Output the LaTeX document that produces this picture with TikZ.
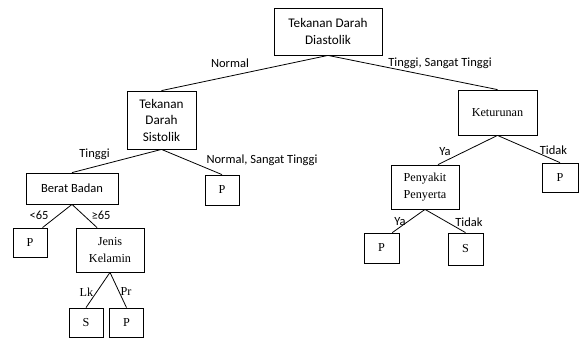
\documentclass[tikz,border=0pt]{standalone}
\usepackage{fontspec}
\setmainfont{Liberation Serif}
\setsansfont{Carlito}

\begin{document}
\begin{tikzpicture}[x=1pt, y=-1pt,
      box/.style={draw, line width=0.8pt, align=center, inner sep=1pt},
      sanstext/.style={font=\sffamily\fontsize{13.2}{16.5}\selectfont},
      labeltext/.style={font=\sffamily\fontsize{12.5}{15}\selectfont},
      seriftext/.style={font=\fontsize{12.2}{16.5}\selectfont},
      leaf/.style={box, seriftext, minimum width=34pt, minimum height=30pt},
      branch/.style={line width=0.8pt}]
      \useasboundingbox (0,0) rectangle (579,338);

      \node (root) at (328,31.5) [box, sanstext,
         minimum width=108pt, minimum height=47pt] {Tekanan Darah\\Diastolik};
      \node (tds) at (161.5,120) [box, sanstext,
         minimum width=69pt, minimum height=58pt] {Tekanan\\Darah\\Sistolik};
      \node (ket) at (497.5,112.5) [box, seriftext,
         minimum width=79pt, minimum height=45pt] {Keturunan};
      \node (bb) at (72,188.5) [box, labeltext,
         minimum width=92pt, minimum height=31pt] {Berat Badan};
      \node (p1) at (222,190) [leaf] {P};
      \node (p2) at (30,242.5) [leaf, minimum height=29pt] {P};
      \node (jk) at (110,250) [box, seriftext,
         minimum width=68pt, minimum height=44pt] {Jenis\\Kelamin};
      \node (s1) at (86,322.5) [leaf, minimum height=29pt] {S};
      \node (p3) at (126.5,322.5) [leaf, minimum height=29pt] {P};
      \node (pp) at (425,187) [box, seriftext,
         minimum width=68pt, minimum height=44pt] {Penyakit\\Penyerta};
      \node (p4) at (560,177.5) [leaf, minimum width=36pt, minimum height=29pt] {P};
      \node (p5) at (381.5,248) [leaf, minimum width=35pt] {P};
      \node (s2) at (465.5,249) [leaf, minimum width=35pt, minimum height=32pt] {S};

      \draw [branch] (root.south) -- (tds.north);
      \draw [branch] (root.south) -- (ket.north);
      \draw [branch] (tds.south) -- (bb.north);
      \draw [branch] (tds.south) -- (p1.north);
      \draw [branch] (bb.south) -- (p2.50);
      \draw [branch] (bb.south) -- (jk.120);
      \draw [branch] (jk.south) -- (s1.north);
      \draw [branch] (jk.south) -- (p3.north);
      \draw [branch] (ket.south) -- (pp.60);
      \draw [branch] (ket.south) -- (p4.north);
      \draw [branch] (pp.south) -- (p5.55);
      \draw [branch] (pp.south) -- (s2.north);

      \node (lnormal) at (230,63) [labeltext] {Normal};
      \node (ltinggist) at (440,63.5) [labeltext] {Tinggi, Sangat Tinggi};
      \node (ltinggi) at (94.5,154) [labeltext] {Tinggi};
      \node (lnormalst) at (262,160) [labeltext] {Normal, Sangat Tinggi};
      \node (lkurang) at (39,215) [labeltext] {<65};
      \node (llebih) at (101,215) [labeltext] {≥65};
      \node (llk) at (86.5,292.5) [seriftext] {Lk};
      \node (lpr) at (126,292) [seriftext] {Pr};
      \node (lya1) at (445,152) [labeltext] {Ya};
      \node (ltidak1) at (553.5,150) [labeltext] {Tidak};
      \node (lya2) at (400,222) [labeltext] {Ya};
      \node (ltidak2) at (469,222) [labeltext] {Tidak};
   \end{tikzpicture}
\end{document}
